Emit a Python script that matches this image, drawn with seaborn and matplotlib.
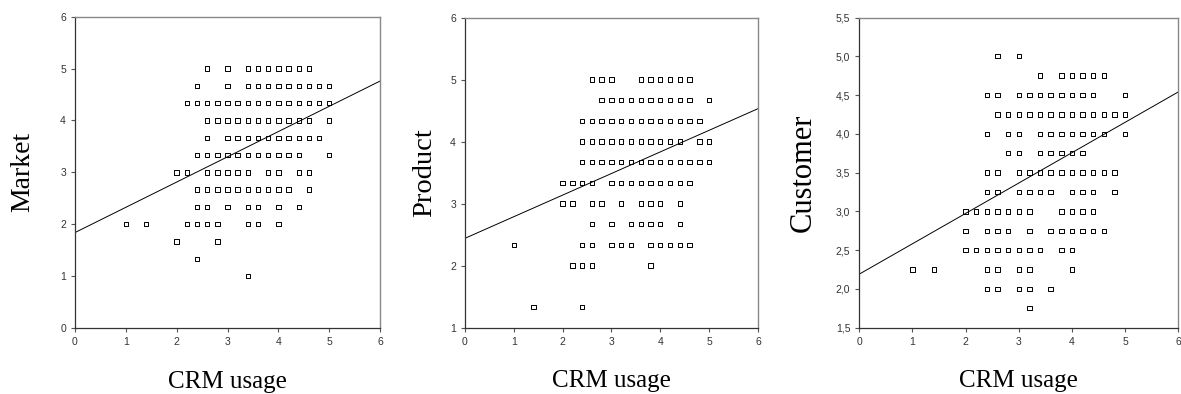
import numpy as np
import pandas as pd
import matplotlib
matplotlib.use("Agg")
import matplotlib.pyplot as plt
import matplotlib.ticker as mticker
import seaborn as sns

# x values (CRM usage) per y-level
market_levels = [5, 14/3, 13/3, 4, 11/3, 10/3, 3, 8/3, 7/3, 2, 5/3, 4/3, 1]
market_rows = [
    [2.6, 3.0, 3.4, 3.6, 3.8, 4.0, 4.2, 4.4, 4.6],
    [2.4, 3.0, 3.4, 3.6, 3.8, 4.0, 4.2, 4.4, 4.6, 4.8, 5.0],
    [2.2, 2.4, 2.6, 2.8, 3.0, 3.2, 3.4, 3.6, 3.8, 4.0, 4.2, 4.4, 4.6, 4.8, 5.0],
    [2.6, 2.8, 3.0, 3.2, 3.4, 3.6, 3.8, 4.0, 4.2, 4.4, 4.6, 5.0],
    [2.6, 3.0, 3.2, 3.4, 3.6, 3.8, 4.0, 4.2, 4.4, 4.6, 4.8],
    [2.4, 2.6, 2.8, 3.0, 3.2, 3.4, 3.6, 3.8, 4.0, 4.2, 4.4, 5.0],
    [2.0, 2.2, 2.6, 2.8, 3.0, 3.2, 3.4, 3.8, 4.0, 4.4, 4.6],
    [2.4, 2.6, 2.8, 3.0, 3.2, 3.4, 3.6, 3.8, 4.0, 4.2, 4.6],
    [2.4, 2.6, 3.0, 3.4, 3.6, 4.0, 4.4],
    [1.0, 1.4, 2.2, 2.4, 2.6, 2.8, 3.4, 3.6, 4.0],
    [2.0, 2.8],
    [2.4],
    [3.4],
]
market_fit = (1.84, 4.76)  # fitted line value at x=0 and x=6

product_levels = [5, 14/3, 13/3, 4, 11/3, 10/3, 3, 8/3, 7/3, 2, 4/3]
product_rows = [
    [2.6, 2.8, 3.0, 3.6, 3.8, 4.0, 4.2, 4.4, 4.6],
    [2.8, 3.0, 3.2, 3.4, 3.6, 3.8, 4.0, 4.2, 4.4, 4.6, 5.0],
    [2.4, 2.6, 2.8, 3.0, 3.2, 3.4, 3.6, 3.8, 4.0, 4.2, 4.4, 4.6, 4.8],
    [2.4, 2.6, 2.8, 3.0, 3.2, 3.4, 3.6, 3.8, 4.0, 4.2, 4.4, 4.8, 5.0],
    [2.4, 2.6, 2.8, 3.0, 3.2, 3.4, 3.6, 3.8, 4.0, 4.2, 4.4, 4.6, 4.8, 5.0],
    [2.0, 2.2, 2.4, 2.6, 3.0, 3.2, 3.4, 3.6, 3.8, 4.0, 4.2, 4.4, 4.6],
    [2.0, 2.2, 2.6, 2.8, 3.2, 3.6, 3.8, 4.0, 4.4],
    [2.6, 3.0, 3.4, 3.6, 3.8, 4.0, 4.4],
    [1.0, 2.4, 2.6, 3.0, 3.2, 3.4, 3.8, 4.0, 4.2, 4.4, 4.6],
    [2.2, 2.4, 2.6, 3.8],
    [1.4, 2.4],
]
product_fit = (2.44, 4.53)

customer_levels = [5.0, 4.75, 4.5, 4.25, 4.0, 3.75, 3.5, 3.25, 3.0, 2.75, 2.5, 2.25, 2.0, 1.75]
customer_rows = [
    [2.6, 3.0],
    [3.4, 3.8, 4.0, 4.2, 4.4, 4.6],
    [2.4, 2.6, 3.0, 3.2, 3.4, 3.6, 3.8, 4.0, 4.2, 4.4, 5.0],
    [2.6, 2.8, 3.0, 3.2, 3.4, 3.6, 3.8, 4.0, 4.2, 4.4, 4.6, 4.8, 5.0],
    [2.4, 2.8, 3.0, 3.4, 3.6, 3.8, 4.0, 4.2, 4.4, 4.6, 5.0],
    [2.8, 3.0, 3.4, 3.6, 3.8, 4.0, 4.2],
    [2.4, 2.6, 3.0, 3.2, 3.4, 3.6, 3.8, 4.0, 4.2, 4.4, 4.6, 4.8],
    [2.4, 2.6, 3.0, 3.2, 3.4, 3.6, 4.0, 4.2, 4.4, 4.8],
    [2.0, 2.2, 2.4, 2.6, 2.8, 3.0, 3.2, 3.8, 4.0, 4.2, 4.4],
    [2.0, 2.4, 2.6, 2.8, 3.2, 3.6, 3.8, 4.0, 4.2, 4.4, 4.6],
    [2.0, 2.2, 2.4, 2.6, 2.8, 3.0, 3.2, 3.4, 3.8, 4.0],
    [1.0, 1.4, 2.4, 2.6, 3.0, 3.2, 4.0],
    [2.4, 2.6, 3.0, 3.2, 3.6],
    [3.2],
]
customer_fit = (2.19, 4.54)

x_ticks = [0, 1, 2, 3, 4, 5, 6]


def to_frame(levels, rows):
    xs, ys = [], []
    for lev, row in zip(levels, rows):
        xs += row
        ys += [lev] * len(row)
    return pd.DataFrame({"CRM usage": xs, "value": ys})


sns.set_theme(style="white")
plt.rcParams["font.family"] = ["Liberation Sans", "DejaVu Sans"]

fig = plt.figure(figsize=(11.81, 3.94), dpi=100)

# name, levels, rows, fit, ylim, yticks, axes rect, comma decimals, ylabel size, ylabel x
panels = [
    ("Market", market_levels, market_rows, market_fit, (0, 6), [0, 1, 2, 3, 4, 5, 6],
     [0.0635, 0.1675, 0.2583, 0.790], False, 20, -0.131),
    ("Product", product_levels, product_rows, product_fit, (1, 6), [1, 2, 3, 4, 5, 6],
     [0.3937, 0.1685, 0.2481, 0.787], False, 20.5, -0.096),
    ("Customer", customer_levels, customer_rows, customer_fit, (1.5, 5.5),
     [1.5, 2.0, 2.5, 3.0, 3.5, 4.0, 4.5, 5.0, 5.5],
     [0.7276, 0.1685, 0.2701, 0.787], True, 22, -0.129),
]

for name, levels, rows, fit, ylim, yticks, pos, comma, ysize, ylx in panels:
    ax = fig.add_axes(pos)
    df = to_frame(levels, rows)
    sns.scatterplot(data=df, x="CRM usage", y="value", ax=ax, marker="s",
                    s=10, facecolors="none", edgecolor="black", linewidth=0.7,
                    legend=False)
    sns.lineplot(x=[0, 6], y=list(fit), ax=ax, color="black", linewidth=0.7)
    ax.set_xlim(0, 6)
    ax.set_ylim(*ylim)
    ax.set_xticks(x_ticks)
    ax.set_yticks(yticks)
    if comma:
        ax.yaxis.set_major_formatter(
            mticker.FuncFormatter(lambda v, p: f"{v:.1f}".replace(".", ",")))
    ax.tick_params(axis="both", which="major", direction="out", length=3,
                   width=0.8, labelsize=7.5, colors="#555555", bottom=True, left=True)
    ax.tick_params(axis="both", labelcolor="#333333")
    for side in ["left", "bottom"]:
        ax.spines[side].set_color("#333333")
        ax.spines[side].set_linewidth(0.9)
    for side in ["top", "right"]:
        ax.spines[side].set_color("#888888")
        ax.spines[side].set_linewidth(1.0)
    ax.set_xlabel("CRM usage", family="Liberation Serif", fontsize=18, color="black")
    ax.xaxis.set_label_coords(0.5, -0.138)
    ax.set_ylabel(name, family="Liberation Serif", fontsize=ysize, color="black")
    ax.yaxis.set_label_coords(ylx, 0.5)

fig.savefig("out.png", dpi=100)
